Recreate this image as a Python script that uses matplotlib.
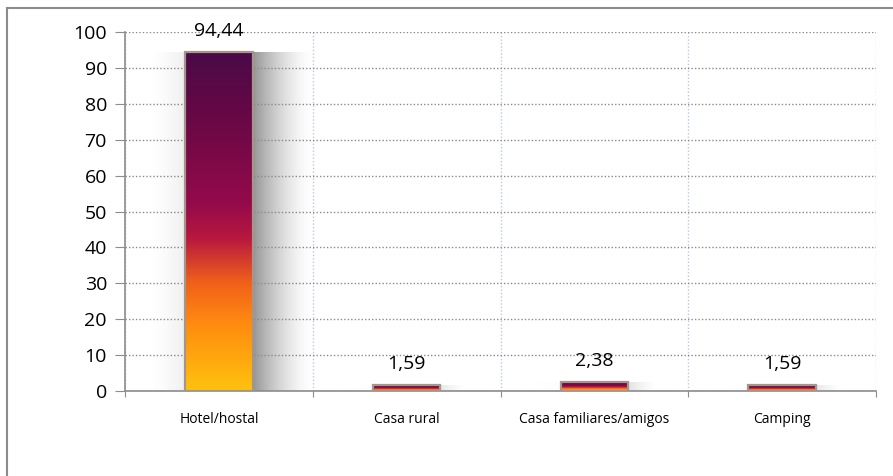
import matplotlib.pyplot as plt
import numpy as np
from matplotlib.colors import LinearSegmentedColormap

categorias = ['Hotel/hostal', 'Casa rural', 'Casa familiares/amigos', 'Camping']
valores = [94.44, 1.59, 2.38, 1.59]
etiquetas = ['94,44', '1,59', '2,38', '1,59']

plt.rcParams['font.family'] = ['Open Sans', 'DejaVu Sans']

fig = plt.figure(figsize=(8.93, 4.76), dpi=100)
# marco exterior
fig.add_artist(plt.Line2D([0.008, 0.008], [0, 0.983], color='#8c8c8c', lw=1.5))
fig.add_artist(plt.Line2D([0.008, 1.0], [0.983, 0.983], color='#8c8c8c', lw=1.5))

ax = fig.add_axes([0.14, 0.1786, 0.841, 0.754])

# degradado de las barras
cmap = LinearSegmentedColormap.from_list('grad', [
    (0.0, '#ffc20e'), (0.2, '#ff8a10'), (0.32, '#f0601a'),
    (0.45, '#b8183e'), (0.55, '#950a4c'), (0.8, '#690845'), (1.0, '#4a0a48')])
grad = np.linspace(0, 1, 256).reshape(-1, 1)

ancho = 0.36
for i, v in enumerate(valores):
    x0 = i + 0.5 - ancho / 2
    # sombra
    k = min(1.0, v / 15)
    sh = np.linspace(1, 0, 100).reshape(1, -1) ** 1.6
    img = np.zeros((1, 100, 4))
    img[..., :3] = 0.45
    img[..., 3] = sh * 0.75 * (0.15 + 0.85 * k)
    ax.imshow(img, extent=(x0 + ancho, x0 + ancho + 0.32 * (0.4 + 0.6 * k), 0, v),
              aspect='auto', zorder=1, interpolation='bilinear')
    img2 = np.zeros((1, 100, 4))
    img2[..., :3] = 0.45
    img2[..., 3] = sh[:, ::-1] * 0.12 * k
    ax.imshow(img2, extent=(x0 - 0.2, x0, 0, v), aspect='auto',
              zorder=1, interpolation='bilinear')
    ax.imshow(grad, extent=(x0, x0 + ancho, 0, v), origin='lower', cmap=cmap,
              aspect='auto', zorder=2, interpolation='bilinear')
    ax.add_patch(plt.Rectangle((x0, 0), ancho, v, fill=False, ec='#a5968c', lw=1.6, zorder=3))
    ax.text(i + 0.5, v + 6, etiquetas[i], ha='center', va='center', fontsize=14,
            zorder=4, clip_on=False)

ax.set_xlim(0, len(categorias))
ax.set_ylim(0, 100)

ax.set_yticks(np.arange(0, 101, 10))
ax.set_xticks(np.arange(0, len(categorias) + 1))
ax.set_xticklabels([])
ax.set_xticks(np.arange(len(categorias)) + 0.5, minor=True)
ax.set_xticklabels(categorias, minor=True, fontsize=10)
ax.tick_params(axis='x', which='minor', length=0, pad=15)
ax.tick_params(axis='x', which='major', length=4, color='#8c8c8c', direction='out')
ax.tick_params(axis='y', length=7, color='#8c8c8c', labelsize=14, pad=6)

ax.grid(axis='y', linestyle=(0, (1, 1.5)), color='#8a8a8a', lw=1, zorder=0)
ax.grid(axis='x', which='major', linestyle=(0, (1, 1.5)), color='#b8c8e8', lw=1, zorder=0)
for s in ['top', 'right']:
    ax.spines[s].set_visible(False)
ax.spines['left'].set_color('#8c8c8c')
ax.spines['bottom'].set_color('#8c8c8c')
ax.spines['left'].set_linewidth(1.2)
ax.spines['bottom'].set_linewidth(1.2)

plt.savefig('out.png', dpi=100)
